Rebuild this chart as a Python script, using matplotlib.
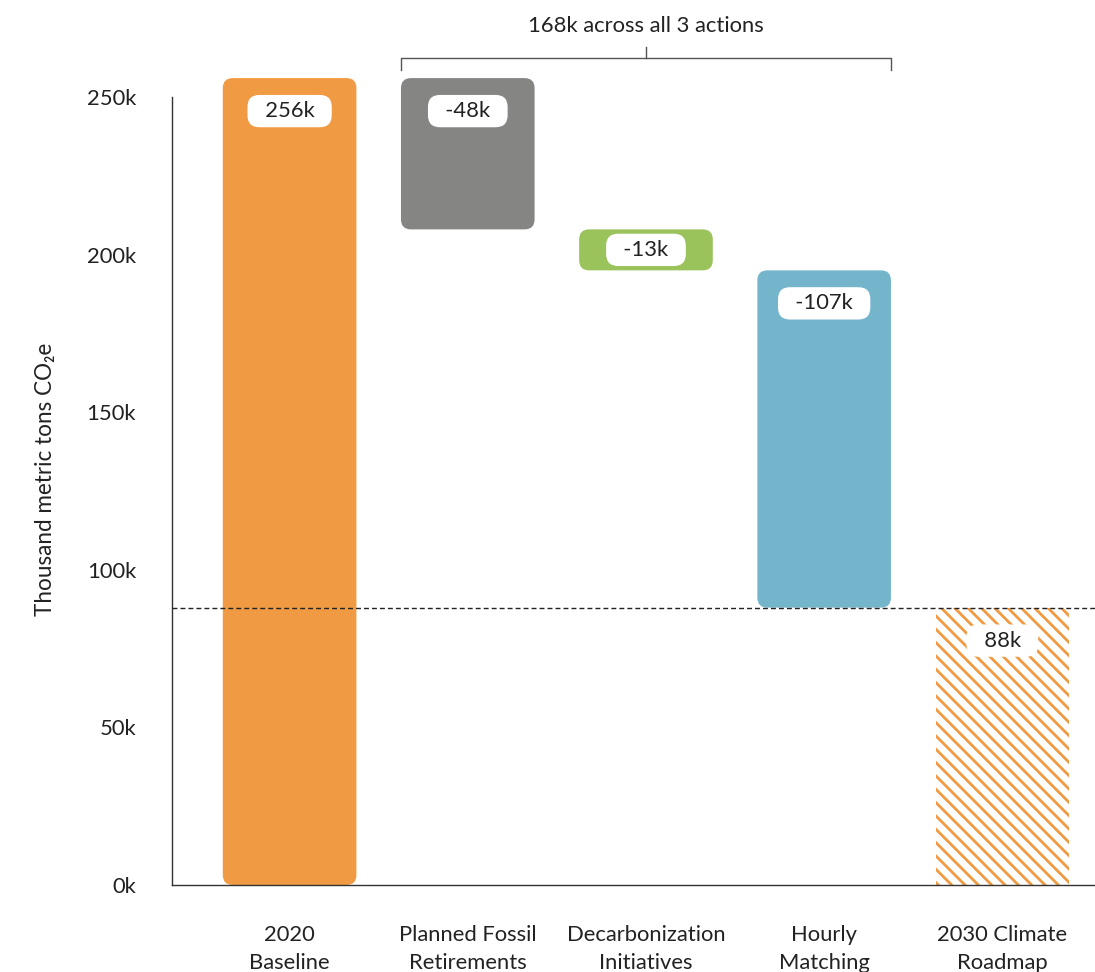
import matplotlib.pyplot as plt
from matplotlib.patches import FancyBboxPatch
import numpy as np

# data (thousand metric tons CO2e)
categories = ['2020\nBaseline', 'Planned Fossil\nRetirements', 'Decarbonization\nInitiatives',
              'Hourly\nMatching', '2030 Climate\nRoadmap']
changes = [256, -48, -13, -107]
target = 88
bar_labels = ['256k', '-48k', '-13k', '-107k', '88k']
colors = ['#F09A43', '#858584', '#9AC35C', '#75B5CC']
target_color = '#F09A43'
yticks = [0, 50, 100, 150, 200, 250]
bracket_text = '168k across all 3 actions'

DPI = 80
W, H = 1095, 972


def pt(px):
    return px * 72 / DPI


plt.rcParams['font.family'] = ['Lato', 'DejaVu Sans']
plt.rcParams['hatch.linewidth'] = pt(2.8)
text_color = '#222222'

fig = plt.figure(figsize=(W / DPI, H / DPI), dpi=DPI)
ax = fig.add_axes([172 / W, 1 - 885 / H, 923 / W, 260 * 3.152 / H])
ax.set_xlim(-0.66, 4.52)
ax.set_ylim(0, 260)

x = np.arange(len(categories))
width = 0.75

# waterfall geometry
levels = np.cumsum([0] + changes)
bottoms = [min(levels[i], levels[i + 1]) for i in range(len(changes))]
heights = [abs(c) for c in changes]

# pixel scale for round corners
p0, p1 = ax.transData.transform([[0, 0], [1, 1]])
px_x, px_y = p1 - p0
aspect = px_x / px_y
radius = 10 / px_x

bars = ax.bar(x[:4], heights, bottom=bottoms, width=width, color=colors)
for b, c in zip(bars, colors):
    b.set_visible(False)
    patch = FancyBboxPatch((b.get_x(), b.get_y()), b.get_width(), b.get_height(),
                           boxstyle=f'round,pad=0,rounding_size={radius}',
                           mutation_aspect=aspect, facecolor=c, edgecolor='none')
    ax.add_patch(patch)

last = ax.bar(x[4], target, width=width, facecolor='white', edgecolor=target_color,
              linewidth=0, hatch='\\\\')

# value boxes
tops = [b.get_y() + b.get_height() for b in bars] + [target]
hts = heights + [target]
for xi, top, h, lab in zip(x, tops, hts, bar_labels):
    off = min(33, h * px_y / 2)
    ax.annotate('  ' + lab + '  ', xy=(xi, top), xytext=(0, -off), textcoords='offset pixels',
                ha='center', va='center', fontsize=pt(22), color=text_color,
                bbox=dict(boxstyle='round,pad=0.28,rounding_size=0.55', fc='white', ec='none'))

# target line
ax.axhline(target, color='#222222', lw=pt(1.4), ls=(0, (3.5, 2.2)), zorder=3)

# bracket over the three actions
xl, xr = x[1] - width / 2, x[3] + width / 2
xc = (xl + xr) / 2
ax.plot([xl, xl, xr, xr], [258.6, 262.4, 262.4, 258.6], color='#555555', lw=pt(1.4), clip_on=False)
ax.plot([xc, xc], [262.4, 265.9], color='#555555', lw=pt(1.4), clip_on=False)
ax.text(xc, 272.6, bracket_text, ha='center', va='center', fontsize=pt(22), color=text_color)

# axes styling
for s in ['top', 'right']:
    ax.spines[s].set_visible(False)
ax.spines['left'].set_bounds(0, 250)
for s in ['left', 'bottom']:
    ax.spines[s].set_color('#333333')
    ax.spines[s].set_linewidth(pt(1.4))

ax.set_yticks(yticks)
ax.set_yticklabels([f'{v}k' for v in yticks])
ax.set_xticks(x)
ax.set_xticklabels(categories, linespacing=1.5)
ax.tick_params(axis='y', length=0, pad=pt(36), labelsize=pt(22), labelcolor=text_color)
ax.tick_params(axis='x', length=0, pad=pt(40), labelsize=pt(22), labelcolor=text_color)

fig.text(46 / W, 1 - 479 / H, 'Thousand metric tons CO₂e', rotation=90, ha='center', va='center',
         fontsize=pt(22.5), color=text_color)

fig.savefig('out.png', dpi=DPI)
